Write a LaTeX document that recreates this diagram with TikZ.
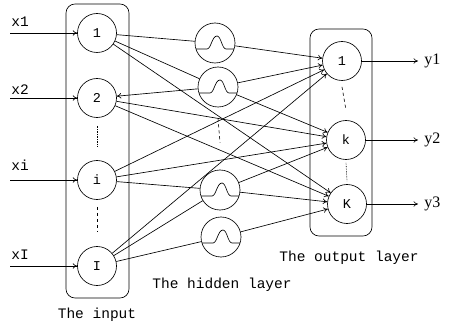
\documentclass[tikz,border=0pt]{standalone}
\usepackage{fontspec}
\setmonofont{Liberation Mono}
\newfontfamily\yfont{Liberation Serif}
\usetikzlibrary{arrows.meta}

\tikzset{
  neuron/.style={draw,circle,minimum size=39pt,inner sep=0pt,font=\ttfamily\fontsize{13.5}{13.5}\selectfont},
  rbf/.style={draw,circle,minimum size=40pt,inner sep=0pt},
  layerbox/.style={draw,rounded corners=9pt},
  link/.style={-{To[length=4.5pt,width=5.5pt]}},
  txt/.style={font=\ttfamily\fontsize{14.5}{14.5}\selectfont,inner sep=0pt},
  ylbl/.style={font=\yfont\fontsize{16}{16}\selectfont,anchor=west,inner sep=0pt}
}

\begin{document}
\begin{tikzpicture}[x=1pt,y=-1pt,line width=0.65pt]
  \useasboundingbox (0,0) rectangle (450,326);
  \draw[layerbox] (66,4) rectangle (129,298);
  \draw[layerbox] (310,29) rectangle (372,236);

  % input layer
  \node[neuron] (in1) at (97,33) {1};
  \node[neuron] (in2) at (97,98) {2};
  \node[neuron] (ini) at (97,180) {i};
  \node[neuron] (inlast) at (97,266) {I};
  \foreach \n/\ly/\t in {in1/22/x1,in2/90/x2,ini/165/xi,inlast/255/xI}{
    \coordinate (s\n) at (10,0 |- \n);
    \draw[link] (s\n) -- (\n);
    \node[txt,anchor=west] (l\n) at (11,\ly) {\t};
  }
  \draw[densely dotted] ([yshift=-8pt]in2.south) -- ([yshift=14pt]ini.north);
  \draw[dashed] ([yshift=-7pt]ini.south) -- ([yshift=14pt]inlast.north);

  % hidden layer
  \node[rbf] (h1) at (215,43) {};
  \node[rbf] (h2) at (218,87) {};
  \node[rbf] (h3) at (220,190) {};
  \node[rbf] (h4) at (221,237) {};
  \foreach \h in {h1,h2,h3,h4}{
    \begin{scope}[shift={(\h.center)}]
      \draw (-19,6) -- (-8,6) .. controls (-4,6) and (-3,-7) .. (2,-7)
            .. controls (6,-7) and (7,6) .. (11,6) -- (19,6);
    \end{scope}
  }
  \draw[dashed] ([yshift=-11pt]h2.south) -- ([yshift=27pt]h3.north);

  % output layer
  \node[neuron] (out1) at (342,61) {1};
  \node[neuron] (outk) at (346,140) {k};
  \node[neuron] (outlast) at (347,204) {K};
  \draw[dashed] ([yshift=-6pt]out1.south) -- ([yshift=10pt]outk.north);
  \draw[densely dotted] ([yshift=-3pt]outk.south) -- ([yshift=3pt]outlast.north);
  \foreach \n/\t in {out1/y1,outk/y2,outlast/y3}{
    \coordinate (e\n) at (418,0 |- \n);
    \draw[link] (\n) -- (e\n);
    \node[ylbl] (l\n) at (424,0 |- \n) {\t};
  }

  % connections
  \foreach \a/\b in {in1/h1,in1/h2,ini/h3,inlast/h3,inlast/h4}
    \draw (\a) -- (\b);
  \draw[link] (h2) -- (in2);
  \foreach \a/\b in {in1/outlast,in2/outk,in2/outlast,ini/out1,ini/outk,inlast/out1,
                     h1/out1,h2/out1,h2/outk,h3/outk,h3/outlast,h4/outlast}
    \draw[link] (\a) -- (\b);

  \node[txt] (tin) at (97,315) {The input};
  \node[txt] (thid) at (222,285) {The hidden layer};
  \node[txt] (tout) at (349,258) {The output layer};
\end{tikzpicture}
\end{document}
